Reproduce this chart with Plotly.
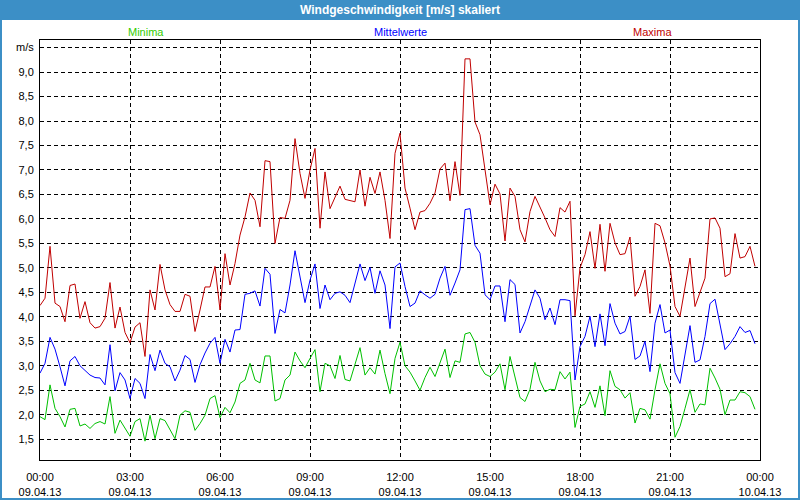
import plotly.graph_objects as go
import pandas as pd

# 10-minute values, 09.04.13 00:00 .. 23:50
maxima = [
    4.23, 4.38, 5.44, 4.28, 4.21, 3.90, 4.64, 4.67, 3.97, 4.31, 3.88, 3.77, 3.80, 3.97, 4.70, 3.77, 4.20, 3.68,
    3.47, 3.79, 3.88, 3.19, 4.55, 4.14, 5.07, 4.55, 4.25, 4.11, 4.11, 4.46, 4.42, 3.70, 4.14, 4.61, 4.61, 5.03,
    4.14, 5.29, 4.65, 5.09, 5.67, 6.04, 6.53, 6.38, 5.84, 7.19, 7.17, 5.50, 6.03, 6.01, 6.38, 7.64, 6.93, 6.42,
    7.00, 7.44, 5.81, 6.96, 6.21, 6.45, 6.67, 6.40, 6.37, 6.35, 7.00, 6.26, 6.85, 6.52, 6.96, 6.38, 5.60, 7.34,
    7.75, 6.63, 6.22, 5.78, 6.14, 6.17, 6.32, 6.53, 7.02, 7.14, 6.37, 7.17, 6.48, 9.27, 9.27, 7.98, 7.72, 6.97,
    6.29, 6.71, 6.51, 5.55, 6.63, 6.46, 5.78, 5.53, 6.15, 6.46, 6.25, 6.02, 5.78, 5.64, 6.23, 6.14, 6.36, 4.02,
    5.00, 5.27, 5.74, 4.99, 5.89, 4.93, 5.91, 5.51, 5.27, 5.29, 5.63, 4.42, 4.62, 4.96, 4.07, 5.91, 5.86, 5.51,
    5.04, 4.21, 4.01, 4.62, 5.20, 4.21, 4.52, 4.79, 6.00, 6.02, 5.81, 4.82, 4.88, 5.70, 5.20, 5.23, 5.44, 5.03,
]
mittelwerte = [
    2.85, 3.05, 3.58, 3.34, 2.98, 2.59, 3.10, 3.19, 3.00, 2.91, 2.81, 2.76, 2.75, 2.61, 3.43, 2.49, 2.86, 2.71,
    2.33, 2.74, 2.64, 2.33, 3.23, 2.90, 3.32, 3.05, 2.98, 2.69, 2.91, 3.21, 3.13, 2.66, 3.02, 3.26, 3.46, 3.58,
    3.05, 3.54, 3.28, 3.73, 3.74, 4.46, 4.48, 4.53, 4.22, 4.99, 4.87, 3.66, 4.15, 4.08, 4.65, 5.35, 4.85, 4.29,
    4.75, 5.08, 4.17, 4.65, 4.35, 4.48, 4.51, 4.44, 4.29, 4.68, 5.08, 4.74, 5.01, 4.48, 4.94, 4.65, 3.76, 5.02,
    5.10, 4.62, 4.21, 4.28, 4.53, 4.45, 4.38, 4.46, 4.79, 5.03, 4.44, 4.69, 4.96, 6.19, 6.21, 5.46, 5.30, 4.45,
    4.35, 4.63, 4.63, 3.90, 4.76, 4.66, 3.67, 3.90, 4.25, 4.55, 4.38, 3.94, 4.18, 3.84, 4.35, 4.35, 4.33, 2.71,
    3.39, 3.60, 4.01, 3.39, 4.06, 3.41, 4.27, 3.87, 3.65, 3.70, 4.01, 3.13, 3.20, 3.50, 2.88, 3.87, 4.25, 3.67,
    3.73, 2.86, 2.64, 3.26, 3.82, 3.07, 3.12, 3.60, 4.27, 4.36, 3.87, 3.33, 3.45, 3.60, 3.80, 3.68, 3.72, 3.45,
]
minima = [
    1.96, 1.90, 2.61, 2.13, 1.96, 1.75, 2.11, 2.13, 1.77, 1.81, 1.72, 1.82, 1.86, 1.81, 2.37, 1.62, 1.89, 1.72,
    1.56, 1.86, 1.92, 1.46, 1.99, 1.51, 1.92, 1.88, 1.70, 1.51, 1.99, 2.08, 2.05, 1.68, 1.82, 1.99, 2.33, 2.39,
    1.94, 2.15, 2.04, 2.26, 2.64, 2.71, 3.05, 2.71, 2.65, 3.20, 3.20, 2.28, 2.33, 2.71, 2.81, 3.28, 3.10, 2.96,
    3.15, 3.33, 2.47, 3.05, 3.00, 2.74, 3.21, 2.72, 2.69, 3.05, 3.37, 2.81, 2.96, 2.83, 3.32, 2.84, 2.43, 3.15,
    3.48, 3.00, 2.87, 2.69, 2.50, 2.76, 2.97, 2.78, 3.07, 3.34, 2.76, 3.10, 3.07, 3.65, 3.68, 3.48, 3.00, 2.83,
    2.78, 2.87, 3.04, 2.51, 3.19, 2.76, 2.35, 2.27, 2.52, 3.07, 2.69, 2.47, 2.52, 2.51, 2.88, 2.73, 2.87, 1.74,
    2.17, 2.22, 2.47, 2.15, 2.59, 1.98, 2.90, 2.58, 2.51, 2.34, 2.45, 1.83, 2.13, 2.10, 1.91, 2.51, 3.04, 2.64,
    2.43, 1.54, 1.76, 2.13, 2.51, 2.05, 2.22, 2.20, 2.95, 2.75, 2.52, 2.00, 2.30, 2.30, 2.47, 2.45, 2.37, 2.11,
]
times = pd.date_range("2013-04-09 00:00", periods=len(maxima), freq="10min")

x_tick_vals = ["2013-04-09 00:00", "2013-04-09 03:00", "2013-04-09 06:00", "2013-04-09 09:00",
               "2013-04-09 12:00", "2013-04-09 15:00", "2013-04-09 18:00", "2013-04-09 21:00",
               "2013-04-10 00:00"]
x_tick_text = ["00:00<br>09.04.13", "03:00<br>09.04.13", "06:00<br>09.04.13", "09:00<br>09.04.13",
               "12:00<br>09.04.13", "15:00<br>09.04.13", "18:00<br>09.04.13", "21:00<br>09.04.13",
               "00:00<br>10.04.13"]
y_tick_vals = [1.5, 2.0, 2.5, 3.0, 3.5, 4.0, 4.5, 5.0, 5.5, 6.0, 6.5, 7.0, 7.5, 8.0, 8.5, 9.0, 9.5]
y_tick_text = ["1,5", "2,0", "2,5", "3,0", "3,5", "4,0", "4,5", "5,0", "5,5", "6,0", "6,5", "7,0",
               "7,5", "8,0", "8,5", "9,0", "m/s"]

title_text = "Windgeschwindigkeit [m/s] skaliert"
series_names = ["Minima", "Mittelwerte", "Maxima"]

W, H = 800, 500
L, R, T, B = 40, 40, 40, 40
PW, PH = W - L - R, H - T - B
FONT = "Liberation Sans"
BLUE_BAR = "#3c8fc6"
X_RANGE = ["2013-04-09 00:00", "2013-04-10 00:00"]

c_min, c_mid, c_max = "#00c000", "#0000ff", "#c00000"
t_min, t_mid, t_max = "#33cc00", "#0000ff", "#c00000"

fig = go.Figure()
fig.add_trace(go.Scatter(x=times, y=maxima, mode="lines", name=series_names[2],
                         line=dict(color=c_max, width=1)))
fig.add_trace(go.Scatter(x=times, y=mittelwerte, mode="lines", name=series_names[1],
                         line=dict(color=c_mid, width=1)))
fig.add_trace(go.Scatter(x=times, y=minima, mode="lines", name=series_names[0],
                         line=dict(color=c_min, width=1)))

def px_x(p):
    return (p - L) / PW

def px_y(p):
    return 1 - (p - T) / PH

shapes = [
    dict(type="rect", xref="paper", yref="paper", x0=px_x(0), x1=px_x(W), y0=px_y(0), y1=px_y(20),
         fillcolor=BLUE_BAR, line=dict(width=0), layer="below"),
    dict(type="rect", xref="paper", yref="paper", x0=px_x(0), x1=px_x(W), y0=px_y(0), y1=px_y(H),
         fillcolor="rgba(0,0,0,0)", line=dict(color=BLUE_BAR, width=4), layer="above"),
]

annotations = [
    dict(text="<b>" + title_text + "</b>", xref="paper", yref="paper", x=px_x(400), y=px_y(10),
         xanchor="center", yanchor="middle", showarrow=False, font=dict(family=FONT, size=12, color="white")),
    dict(text=series_names[0], xref="paper", yref="paper", x=px_x(146), y=px_y(32),
         xanchor="center", yanchor="middle", showarrow=False, font=dict(family=FONT, size=11, color=t_min)),
    dict(text=series_names[1], xref="paper", yref="paper", x=px_x(400), y=px_y(32),
         xanchor="center", yanchor="middle", showarrow=False, font=dict(family=FONT, size=11, color=t_mid)),
    dict(text=series_names[2], xref="paper", yref="paper", x=px_x(652), y=px_y(32),
         xanchor="center", yanchor="middle", showarrow=False, font=dict(family=FONT, size=11, color=t_max)),
]

fig.update_layout(
    width=W, height=H,
    margin=dict(l=L, r=R, t=T, b=B, pad=0, autoexpand=False),
    paper_bgcolor="white", plot_bgcolor="white",
    showlegend=False,
    font=dict(family=FONT, size=11, color="black"),
    shapes=shapes, annotations=annotations,
    xaxis=dict(
        type="date", range=X_RANGE,
        tickmode="array", tickvals=x_tick_vals, ticktext=x_tick_text,
        ticks="outside", ticklen=7, tickcolor="rgba(0,0,0,0)", tickwidth=1,
        showgrid=True, gridcolor="black", gridwidth=1, griddash="4px,3px",
        showline=True, linecolor="black", linewidth=1, mirror=True,
        zeroline=False, automargin=False,
        tickfont=dict(family=FONT, size=11, color="black"),
    ),
    xaxis2=dict(
        type="date", range=X_RANGE, overlaying="x", anchor="y", side="bottom",
        tickmode="linear", tick0=X_RANGE[0], dtick=3600000,
        ticks="outside", ticklen=3, tickcolor="black", tickwidth=1,
        showticklabels=False, showgrid=False, showline=False, zeroline=False, automargin=False,
    ),
    yaxis=dict(
        range=[1.075, 9.655],
        tickmode="array", tickvals=y_tick_vals, ticktext=y_tick_text,
        ticks="", showgrid=True, gridcolor="black", gridwidth=1, griddash="4px,3px",
        showline=True, linecolor="black", linewidth=1, mirror=True,
        zeroline=False, ticklabelstandoff=3, automargin=False,
        tickfont=dict(family=FONT, size=11, color="black"),
    ),
)

fig.write_html("out.html", config={"displayModeBar": False},
               post_script="document.body.style.margin='0';document.body.style.overflow='hidden';")
